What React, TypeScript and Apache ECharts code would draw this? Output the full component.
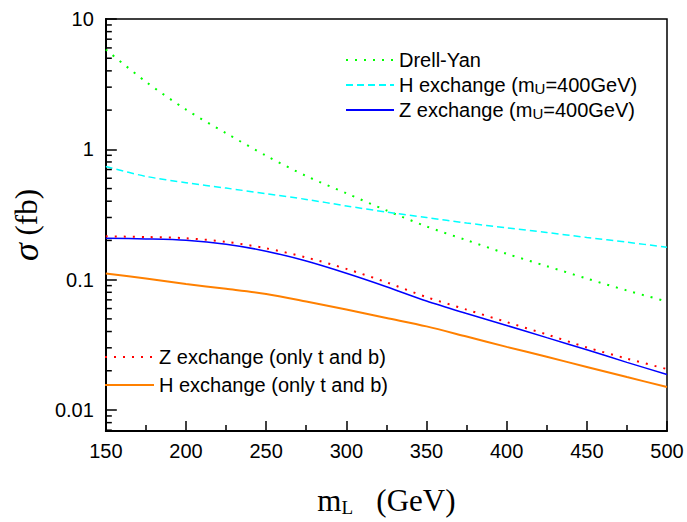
import React, { useEffect, useRef } from "react";
import * as echarts from "echarts";

const massL = [150, 175, 200, 225, 250, 275, 300, 325, 350, 375, 400, 425, 450, 475, 500];
const drellYan = [5.83, 3.3, 2.02, 1.33, 0.893, 0.624, 0.46, 0.34, 0.256, 0.201, 0.158, 0.127, 0.102, 0.0826, 0.068];
const hExchange = [0.738, 0.62, 0.555, 0.504, 0.457, 0.413, 0.368, 0.33, 0.3, 0.272, 0.25, 0.23, 0.211, 0.194, 0.177];
const zExchange = [0.208, 0.2055, 0.2005, 0.187, 0.1655, 0.139, 0.112, 0.0883, 0.0686, 0.055, 0.0445, 0.0359, 0.029, 0.0232, 0.01875];
const zOnlyTB = [0.215, 0.2125, 0.208, 0.195, 0.174, 0.148, 0.121, 0.0955, 0.0735, 0.0589, 0.0473, 0.038, 0.0302, 0.0248, 0.0206];
const hOnlyTB = [0.1116, 0.102, 0.0925, 0.085, 0.0776, 0.068, 0.059, 0.0508, 0.0438, 0.0366, 0.0305, 0.0256, 0.0214, 0.0179, 0.015];
const yMinorTicks = [0.007, 0.008, 0.009, 0.02, 0.03, 0.04, 0.05, 0.06, 0.07, 0.08, 0.09, 0.2, 0.3, 0.4, 0.5, 0.6, 0.7, 0.8, 0.9, 2, 3, 4, 5, 6, 7, 8, 9];

const NAMES = {
  dy: "Drell-Yan",
  h: "H exchange (m_U=400GeV)",
  z: "Z exchange (m_U=400GeV)",
  zo: "Z exchange (only t and b)",
  ho: "H exchange (only t and b)",
};

const SANS = "Liberation Sans, Arial, sans-serif";
const SERIF = "Liberation Serif, Times New Roman, serif";

const pair = (ys: number[]) => massL.map((x, i) => [x, ys[i]]);

export default function App() {
  const ref = useRef<HTMLDivElement>(null);
  useEffect(() => {
    if (!ref.current) return;
    const chart = echarts.init(ref.current, null, { renderer: "svg" });
    const legendText = {
      fontFamily: SANS,
      fontSize: 20,
      color: "#000",
      lineHeight: 22,
      rich: {
        sub: { fontSize: 15, lineHeight: 6, verticalAlign: "bottom", fontFamily: SANS, color: "#000" },
      },
    };
    const fmt = (n: string) => n.replace("m_U", "m{sub|U}");
    const mk = (name: string, data: number[], color: string, type: any, width: number) => ({
      name,
      type: "line",
      data: pair(data),
      smooth: 0.3,
      symbol: "none",
      lineStyle: { color, type, width },
      itemStyle: { color },
      z: 3,
    });
    const legendItemStyle = { color: "rgba(0,0,0,0)", borderColor: "rgba(0,0,0,0)", borderWidth: 0 };
    chart.setOption({
      animation: false,
      backgroundColor: "#fff",
      grid: {
        left: 97,
        right: 20,
        top: 19,
        bottom: 85,
        show: true,
        borderColor: "#000",
        borderWidth: 1.5,
        backgroundColor: "transparent",
      },
      legend: [
        {
          data: [NAMES.dy, NAMES.h, NAMES.z],
          orient: "vertical",
          left: 345,
          top: 49,
          padding: 0,
          itemWidth: 48,
          itemHeight: 14,
          itemGap: 3,
          formatter: fmt,
          textStyle: legendText,
          itemStyle: legendItemStyle,
          selectedMode: false,
        },
        {
          data: [NAMES.zo, NAMES.ho],
          orient: "vertical",
          left: 104,
          top: 346,
          padding: 0,
          itemWidth: 49,
          itemHeight: 14,
          itemGap: 6,
          textStyle: legendText,
          itemStyle: legendItemStyle,
          selectedMode: false,
        },
      ],
      xAxis: {
        type: "value",
        min: 150,
        max: 500,
        interval: 50,
        name: "{m|m}{sub|L}{m|   (GeV)}",
        nameLocation: "middle",
        nameGap: 52,
        nameTextStyle: {
          rich: {
            m: { fontFamily: SERIF, fontSize: 31, color: "#000", lineHeight: 34 },
            sub: { fontFamily: SERIF, fontSize: 19, color: "#000", lineHeight: 16, verticalAlign: "bottom" },
          },
        },
        axisLine: { show: true, lineStyle: { color: "#000", width: 2 } },
        axisTick: { show: true, inside: true, length: 10, lineStyle: { color: "#000", width: 1.5 } },
        minorTick: { show: true, splitNumber: 2, length: 6, lineStyle: { color: "#000", width: 1.5 } },
        splitLine: { show: false },
        minorSplitLine: { show: false },
        axisLabel: {
          color: "#000",
          fontSize: 20,
          fontFamily: SANS,
          margin: 10,
        },
      },
      yAxis: {
        type: "log",
        logBase: 10,
        min: 0.0069,
        max: 10,
        name: "{s|σ}{m| (fb)}",
        nameLocation: "middle",
        nameGap: 38,
        nameRotate: 90,
        nameTextStyle: {
          rich: {
            s: { fontFamily: SERIF, fontStyle: "italic", fontSize: 36, color: "#000" },
            m: { fontFamily: SERIF, fontSize: 31, color: "#000" },
          },
        },
        axisLine: { show: true, lineStyle: { color: "#000", width: 2 } },
        axisTick: { show: true, inside: true, length: 11, lineStyle: { color: "#000", width: 1.5 } },
        splitLine: { show: false },
        axisLabel: {
          color: "#000",
          fontSize: 20,
          fontFamily: SANS,
          margin: 12,
          showMinLabel: false,
          formatter: (v: number) => {
            const r = Math.round(Math.log10(v));
            return Math.abs(Math.log10(v) - r) < 1e-6 ? String(Number(Math.pow(10, r).toPrecision(3))) : "";
          },
        },
      },
      series: [
        mk(NAMES.dy, drellYan, "#00ff00", [2, 7], 2),
        mk(NAMES.h, hExchange, "#00ffff", [7, 4], 1.5),
        mk(NAMES.z, zExchange, "#0000ff", "solid", 1.5),
        mk(NAMES.zo, zOnlyTB, "#ff0000", [2, 7], 2),
        mk(NAMES.ho, hOnlyTB, "#ff8000", "solid", 2),
        {
          type: "custom",
          name: "yMinor",
          data: yMinorTicks.map((v) => [150, v]),
          silent: true,
          z: 4,
          renderItem: (_p: any, api: any) => {
            const pt = api.coord([api.value(0), api.value(1)]);
            return {
              type: "line",
              shape: { x1: pt[0], y1: pt[1], x2: pt[0] + 6, y2: pt[1] },
              style: { stroke: "#000", lineWidth: 1.5 },
            };
          },
        },
      ],
    });
    return () => chart.dispose();
  }, []);
  return <div ref={ref} style={{ position: "absolute", left: 0, top: 0, width: 687, height: 522 }} />;
}
